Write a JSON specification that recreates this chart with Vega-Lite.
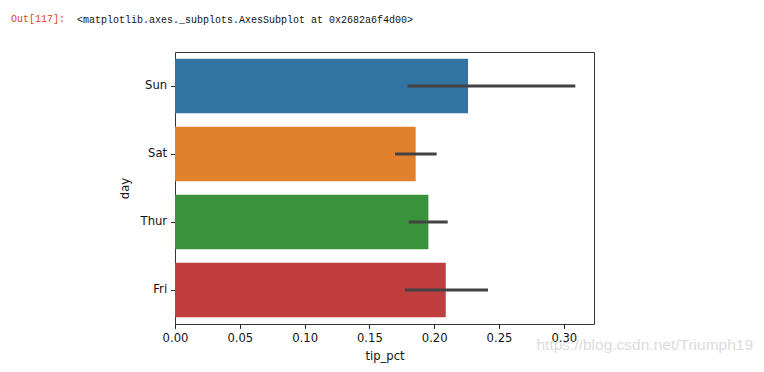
{
  "$schema": "https://vega.github.io/schema/vega-lite/v6.json",
  "autosize": "none",
  "width": 419,
  "height": 272,
  "padding": {"left": 175, "top": 52, "right": 170, "bottom": 48},
  "background": "white",
  "title": {
    "text": "Out[117]:",
    "subtitle": "\u200d\u00a0\u00a0\u00a0\u00a0\u00a0\u00a0\u00a0\u00a0\u00a0\u00a0\u00a0<matplotlib.axes._subplots.AxesSubplot at 0x2682a6f4d00>",
    "anchor": "start",
    "frame": "group",
    "orient": "top",
    "dx": -164,
    "offset": 27,
    "font": "Liberation Mono",
    "fontSize": 10,
    "fontWeight": "normal",
    "color": "#D84315",
    "subtitleFont": "Liberation Mono",
    "subtitleFontSize": 10,
    "subtitleColor": "#111111",
    "subtitlePadding": -9
  },
  "config": {
    "view": {"stroke": "#333333", "strokeWidth": 1},
    "axis": {
      "labelFont": "DejaVu Sans",
      "labelFontSize": 11.6,
      "labelColor": "#111111",
      "labelFlush": false,
      "titleFont": "DejaVu Sans",
      "titleFontSize": 11.6,
      "titleFontWeight": "normal",
      "titleColor": "#111111",
      "tickColor": "#222222",
      "tickSize": 4.4,
      "tickWidth": 1,
      "grid": false,
      "domain": false
    }
  },
  "datasets": {
    "tips": [
      {"day": "Sun", "tip_pct": 0.2261, "lo": 0.1795, "hi": 0.3089},
      {"day": "Sat", "tip_pct": 0.1857, "lo": 0.1698, "hi": 0.2019},
      {"day": "Thur", "tip_pct": 0.1955, "lo": 0.1803, "hi": 0.2104},
      {"day": "Fri", "tip_pct": 0.2089, "lo": 0.1775, "hi": 0.2415}
    ],
    "mark": [
      {"label": "https://blog.csdn.net/Triumph19", "x": 0.446, "day": "Fri"}
    ]
  },
  "layer": [
    {
      "data": {"name": "tips"},
      "mark": {"type": "bar"},
      "encoding": {
        "y": {
          "field": "day",
          "type": "nominal",
          "title": "day",
          "scale": {"domain": ["Sun", "Sat", "Thur", "Fri"], "paddingInner": 0.2, "paddingOuter": 0.1},
          "axis": {"labelPadding": 4, "titlePadding": 10}
        },
        "x": {
          "field": "tip_pct",
          "type": "quantitative",
          "title": "tip_pct",
          "scale": {"domain": [0, 0.3233], "nice": false, "zero": true},
          "axis": {"values": [0, 0.05, 0.1, 0.15, 0.2, 0.25, 0.3], "format": ".2f", "labelPadding": 4, "titlePadding": 6}
        },
        "color": {
          "field": "day",
          "type": "nominal",
          "scale": {"domain": ["Sun", "Sat", "Thur", "Fri"], "range": ["#3274A1", "#E1812C", "#3A923A", "#C03D3E"]},
          "legend": null
        }
      }
    },
    {
      "data": {"name": "tips"},
      "mark": {"type": "rule", "color": "#424242", "strokeWidth": 2.8, "strokeCap": "butt"},
      "encoding": {
        "y": {"field": "day", "type": "nominal", "bandPosition": 0.5},
        "x": {"field": "lo", "type": "quantitative"},
        "x2": {"field": "hi"}
      }
    },
    {
      "data": {"name": "mark"},
      "mark": {"type": "text", "align": "right", "baseline": "middle", "font": "Liberation Sans", "fontSize": 15.5, "color": "#dcdcdc", "dy": 55},
      "encoding": {
        "x": {"field": "x", "type": "quantitative"},
        "y": {"field": "day", "type": "nominal", "bandPosition": 0.5},
        "text": {"field": "label"}
      }
    }
  ]
}
